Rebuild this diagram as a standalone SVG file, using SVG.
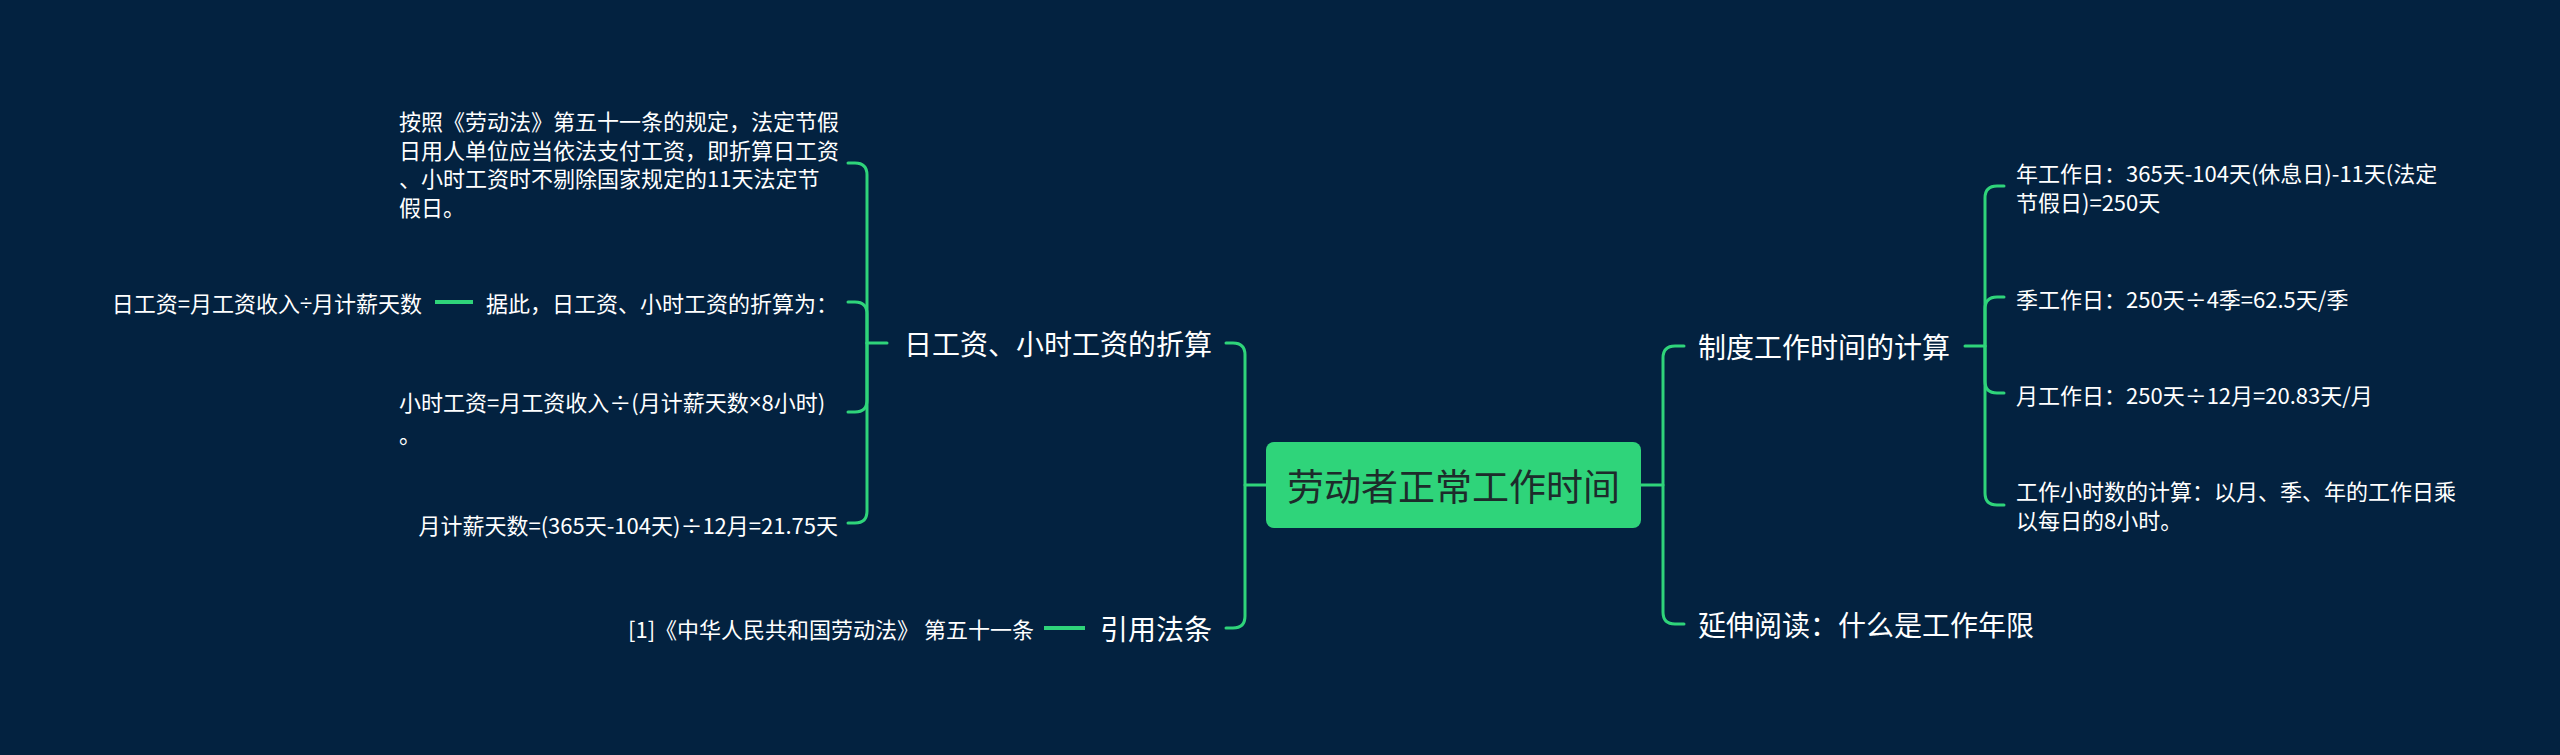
<svg xmlns="http://www.w3.org/2000/svg" width="2560" height="755" viewBox="0 0 2560 755">
<style>
.bg{fill:#032240}
.ln{fill:none;stroke:#2fd47a;stroke-width:3;stroke-linecap:round;stroke-linejoin:round}
.stub{fill:none;stroke:#2fd47a;stroke-width:4}
text{font-family:"Noto Sans CJK SC","Noto Sans",sans-serif;dominant-baseline:central}
.op{font-family:"Liberation Sans",sans-serif}
.root{font-size:37px;fill:#1d2b2b}
.l1{font-size:28px;fill:#ffffff}
.l2{font-size:22px;fill:#ffffff}
</style>
<rect class="bg" x="0" y="0" width="2560" height="755"/>
<g id="connectors">
  <path class="ln" d="M1266 485 H1245 V355 Q1245 343 1233 343 H1226"/>
  <path class="ln" d="M1245 485 V616 Q1245 628 1233 628 H1226"/>
  <path class="ln" d="M1641 485 H1663 V358 Q1663 346 1675 346 H1684"/>
  <path class="ln" d="M1663 485 V612 Q1663 624 1675 624 H1684"/>
  <path class="ln" d="M887 343 H867 V175 Q867 163 855 163 H848"/>
  <path class="ln" d="M867 343 V314 Q867 302 855 302 H848"/>
  <path class="ln" d="M867 343 V400 Q867 412 855 412 H848"/>
  <path class="ln" d="M867 343 V511 Q867 523 855 523 H848"/>
  <path class="stub" d="M473 302 H435"/>
  <path class="stub" d="M1085 628 H1044"/>
  <path class="ln" d="M1965 346 H1985 V198 Q1985 186 1997 186 H2004"/>
  <path class="ln" d="M1985 346 V309 Q1985 297 1997 297 H2004"/>
  <path class="ln" d="M1985 346 V381 Q1985 393 1997 393 H2004"/>
  <path class="ln" d="M1985 346 V493 Q1985 505 1997 505 H2004"/>
</g>
<g id="root">
  <rect x="1266" y="442" width="375" height="86" rx="8" fill="#2fd47a"/>
  <text class="root" x="1453.5" y="485" text-anchor="middle">劳动者正常工作时间</text>
</g>
<g id="n-rigongzi">
  <text class="l1" x="1212" y="343" text-anchor="end">日工资、小时工资的折算</text>
</g>
<g id="n-yinyong">
  <text class="l1" x="1212" y="628" text-anchor="end">引用法条</text>
</g>
<g id="n-zhidu">
  <text class="l1" x="1698" y="346">制度工作时间的计算</text>
</g>
<g id="n-yanshen">
  <text class="l1" x="1698" y="624">延伸阅读：什么是工作年限</text>
</g>
<g id="n-anzhao">
  <text class="l2"><tspan x="399" y="120">按照《劳动法》第五十一条的规定，法定节假</tspan><tspan x="399" y="148.5">日用人单位应当依法支付工资，即折算日工资</tspan><tspan x="399" y="177">、小时工资时不剔除国家规定的11天法定节</tspan><tspan x="399" y="205.5">假日。</tspan></text>
</g>
<g id="n-juci">
  <text class="l2" x="838" y="302" text-anchor="end">据此，日工资、小时工资的折算为：</text>
</g>
<g id="n-rigongzi-formula">
  <text class="l2" x="422" y="302" text-anchor="end">日工资=月工资收入<tspan class="op">÷</tspan>月计薪天数</text>
</g>
<g id="n-xiaoshi">
  <text class="l2"><tspan x="399" y="401">小时工资=月工资收入÷(月计薪天数<tspan class="op">×</tspan>8小时)</tspan><tspan x="399" y="433">。</tspan></text>
</g>
<g id="n-yuejixin">
  <text class="l2" x="838" y="524" text-anchor="end">月计薪天数=(365天-104天)÷12月=21.75天</text>
</g>
<g id="n-law">
  <text class="l2" x="1034" y="628" text-anchor="end">[1]《中华人民共和国劳动法》 第五十一条</text>
</g>
<g id="n-nian">
  <text class="l2"><tspan x="2016" y="172">年工作日：365天-104天(休息日)-11天(法定</tspan><tspan x="2016" y="201">节假日)=250天</tspan></text>
</g>
<g id="n-ji">
  <text class="l2" x="2016" y="298">季工作日：250天÷4季=62.5天/季</text>
</g>
<g id="n-yue">
  <text class="l2" x="2016" y="394">月工作日：250天÷12月=20.83天/月</text>
</g>
<g id="n-xiaoshishu">
  <text class="l2"><tspan x="2016" y="490">工作小时数的计算：以月、季、年的工作日乘</tspan><tspan x="2016" y="519">以每日的8小时。</tspan></text>
</g>
</svg>
